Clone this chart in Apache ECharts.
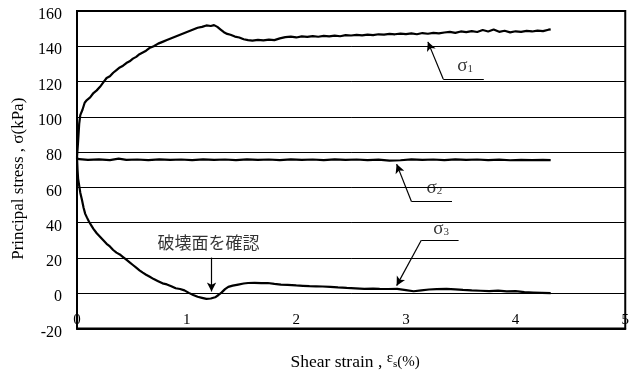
<!DOCTYPE html>
<html><head><meta charset="utf-8">
<script src="https://cdn.jsdelivr.net/npm/echarts@6/dist/echarts.min.js"></script>
<style>html,body{margin:0;padding:0;background:#fff}#c{width:632px;height:376px}</style>
</head><body><div id="c"></div>
<script>
// ---- data ----
const xRange = [0, 5];
const yRange = [-20, 160];
const xLabel = 'Shear strain , ';
const yLabel = 'Principal stress , σ(kPa)';

const sigma1 = [
[0,77],[0.01,86],[0.02,96],[0.03,101],[0.05,104],[0.07,108],[0.09,109.5],[0.12,111],[0.15,113.5],[0.18,115],
[0.21,117],[0.24,119.5],[0.27,122],[0.30,123],[0.33,125],[0.36,126.5],[0.39,128],[0.42,129],[0.45,130.5],[0.48,131.5],
[0.51,133],[0.54,134],[0.57,135.5],[0.60,136.5],[0.63,137.5],[0.66,139],[0.70,140],[0.74,141.5],[0.78,142.5],[0.82,143.5],
[0.86,144.5],[0.90,145.5],[0.94,146.5],[0.98,147.5],[1.02,148.5],[1.06,149.5],[1.10,150.5],[1.14,151],[1.18,151.8],[1.22,151.5],
[1.25,152],[1.28,151],[1.31,149.5],[1.34,148],[1.37,147],[1.40,146.5],[1.44,145.5],[1.48,145],[1.52,144],[1.56,143.5],
[1.60,143.2],[1.65,143.6],[1.70,143.3],[1.75,143.8],[1.80,143.5],[1.85,144.5],[1.90,145.2],[1.95,145.5],[2.00,145],[2.05,145.6],
[2.10,145.3],[2.15,145.8],[2.20,145.4],[2.25,145.9],[2.30,145.6],[2.35,146],[2.40,145.7],[2.45,146.3],[2.50,146.1],[2.55,146.5],
[2.60,146.2],[2.65,146.6],[2.70,146.3],[2.75,146.8],[2.80,146.6],[2.85,147],[2.90,146.8],[2.95,147.2],[3.00,146.9],[3.05,147.3],
[3.10,146.8],[3.15,147.5],[3.20,147.1],[3.25,147.6],[3.30,147.3],[3.35,147.8],[3.40,148.2],[3.45,147.6],[3.50,148.4],[3.55,148],
[3.60,148.6],[3.65,148.1],[3.70,149.2],[3.75,148.4],[3.80,149.5],[3.85,148.2],[3.90,148.8],[3.95,147.9],[4.00,148.5],[4.05,148.2],
[4.10,148.7],[4.15,148.4],[4.20,148.9],[4.25,148.6],[4.30,149.4],[4.32,149.6]
];

const sigma2 = [
[0,76.5],[0.02,76],[0.1,75.6],[0.2,75.9],[0.3,75.5],[0.38,76.3],[0.45,75.6],[0.55,75.8],[0.65,75.5],[0.75,75.9],
[0.85,75.6],[0.95,75.8],[1.05,75.5],[1.15,75.9],[1.25,75.6],[1.35,75.8],[1.45,75.5],[1.55,75.9],[1.65,75.6],[1.75,75.8],
[1.85,75.5],[1.95,75.9],[2.05,75.6],[2.15,75.8],[2.25,75.5],[2.35,75.9],[2.45,75.6],[2.55,75.8],[2.65,75.5],[2.75,75.7],
[2.85,75.2],[2.95,75.4],[3.05,75.9],[3.15,75.6],[3.25,75.8],[3.35,75.5],[3.45,75.9],[3.55,75.6],[3.65,75.8],[3.75,75.5],
[3.85,75.7],[3.95,75.4],[4.05,75.6],[4.15,75.5],[4.25,75.6],[4.32,75.5]
];

const sigma3 = [
[0,77],[0.005,70],[0.01,65],[0.02,61],[0.03,57],[0.045,53],[0.06,48.5],[0.075,45],[0.09,43],[0.11,40.5],
[0.13,38.5],[0.15,36.5],[0.18,34],[0.21,32],[0.24,30],[0.27,28],[0.30,26.5],[0.33,24.5],[0.36,23],[0.39,22],
[0.42,20.5],[0.45,19],[0.48,17.5],[0.51,16],[0.54,14.5],[0.57,13],[0.60,11.7],[0.63,10.5],[0.66,9.5],[0.70,8],
[0.74,6.8],[0.78,5.6],[0.82,5],[0.86,4],[0.90,2.8],[0.94,2.4],[0.98,1.6],[1.02,0.2],[1.06,-1],[1.10,-2],
[1.14,-2.6],[1.18,-3.2],[1.22,-3],[1.26,-2.3],[1.29,-1],[1.32,0.5],[1.35,2.3],[1.38,3.6],[1.42,4.3],[1.47,4.9],
[1.52,5.5],[1.56,5.8],[1.62,5.9],[1.68,5.7],[1.74,5.8],[1.80,5.3],[1.86,4.9],[1.92,4.7],[2.00,4.4],[2.06,4.2],
[2.12,4.0],[2.18,3.9],[2.24,3.8],[2.31,3.6],[2.38,3.3],[2.46,3.0],[2.54,2.8],[2.62,2.5],[2.70,2.6],[2.76,2.5],
[2.84,2.4],[2.92,2.5],[3.00,1.8],[3.07,1.1],[3.14,1.6],[3.21,2.1],[3.28,2.3],[3.37,2.5],[3.45,2.2],[3.52,1.9],
[3.60,1.6],[3.68,1.4],[3.76,1.2],[3.84,1.5],[3.92,1.0],[4.00,1.2],[4.08,0.6],[4.16,0.4],[4.24,0.2],[4.32,0]
];

// annotation leaders: [x1, y1, x2, y2, arrowAtEnd]
const leaders = [
[3.34,121.5, 3.20,142.5, true],
[3.34,121.5, 3.71,121.5, false],
[3.05,52.0, 2.915,73.2, true],
[3.05,52.0, 3.42,52.0, false],
[3.14,30.0, 2.915,4.3, true],
[3.14,30.0, 3.48,30.0, false],
[1.227,20.2, 1.227,1.0, true]
];
// annotation texts: [x, y, main, sub]
const notes = [
[3.54,129,'σ','1'],
[3.26,59.5,'σ','2'],
[3.32,36.5,'σ','3']
];
const failNote = [1.2, 28.7, '破壊面を確認'];

// ---- chart ----
const serif = 'Liberation Serif, Times New Roman, serif';
const chart = echarts.init(document.getElementById('c'), null, {renderer:'canvas'});

const lineSeries = (name, data) => ({
  name, type:'line', data, showSymbol:false, symbol:'none',
  lineStyle:{color:'#000', width:2.2}, silent:true, animation:false, z:3
});

const markData = leaders.map(l => [
  {coord:[l[0],l[1]], symbol:'none'},
  {coord:[l[2],l[3]], symbol: l[4] ? 'arrow' : 'none'}
]);

const option = {
  backgroundColor:'#fff',
  animation:false,
  grid:{left:77, right:1, top:11, bottom:47, show:true, borderColor:'#000', borderWidth:2, backgroundColor:'#fff'},
  xAxis:{
    type:'value', min:xRange[0], max:xRange[1], interval:1,
    axisLine:{show:true, onZero:false, lineStyle:{color:'#000', width:2}},
    axisTick:{show:false},
    splitLine:{show:false},
    axisLabel:{inside:true, margin:1, color:'#000', fontSize:15, fontFamily:serif},
    name: '{n|' + xLabel + '}{e|ε}{s|s}{p|(%)}',
    nameLocation:'middle', nameGap:22,
    nameTextStyle:{
      color:'#000', fontFamily:serif, padding:[0,0,0,8],
      rich:{
        n:{fontSize:17.5, fontFamily:serif, color:'#000'},
        e:{fontSize:15, fontFamily:serif, color:'#000', padding:[0,0,8,0]},
        s:{fontSize:11, fontFamily:serif, color:'#000', padding:[4,0,0,0]},
        p:{fontSize:15, fontFamily:serif, color:'#000'}
      }
    }
  },
  yAxis:{
    type:'value', min:yRange[0], max:yRange[1], interval:20,
    axisLine:{show:true, onZero:false, lineStyle:{color:'#000', width:2}},
    axisTick:{show:false},
    splitLine:{show:true, lineStyle:{color:'#000', width:1}},
    axisLabel:{margin:15, color:'#000', fontSize:16, fontFamily:serif, verticalAlign:'top', lineHeight:8},
    name: yLabel, nameLocation:'middle', nameGap:42,
    nameTextStyle:{color:'#000', fontSize:17, fontFamily:serif, padding:[0,18,0,0]}
  },
  series:[
    lineSeries('σ1', sigma1),
    Object.assign(lineSeries('σ2', sigma2), {
      markLine:{
        silent:true, animation:false, symbolSize:[7,9],
        label:{show:false},
        lineStyle:{color:'#000', width:1.2, type:'solid'},
        emphasis:{disabled:true},
        data: markData
      }
    }),
    lineSeries('σ3', sigma3),
    {
      type:'scatter', silent:true, animation:false, symbolSize:1,
      itemStyle:{color:'rgba(0,0,0,0)'},
      data: notes.map(n => ({value:[n[0],n[1]], main:n[2], sub:n[3]})),
      label:{
        show:true, position:'inside',
        formatter: p => '{m|' + p.data.main + '}{b|' + p.data.sub + '}',
        rich:{
          m:{fontSize:19, fontFamily:serif, color:'#000'},
          b:{fontSize:11, fontFamily:serif, color:'#000', padding:[6,0,0,0]}
        }
      },
      z:5
    },
    {
      type:'scatter', silent:true, animation:false, symbolSize:1,
      itemStyle:{color:'rgba(0,0,0,0)'},
      data:[{value:[failNote[0], failNote[1]], txt:failNote[2]}],
      label:{show:true, position:'inside', formatter: p => p.data.txt,
        fontSize:17, fontFamily:'Noto Sans CJK JP', color:'#000'},
      z:5
    }
  ]
};
chart.setOption(option);
</script></body></html>
